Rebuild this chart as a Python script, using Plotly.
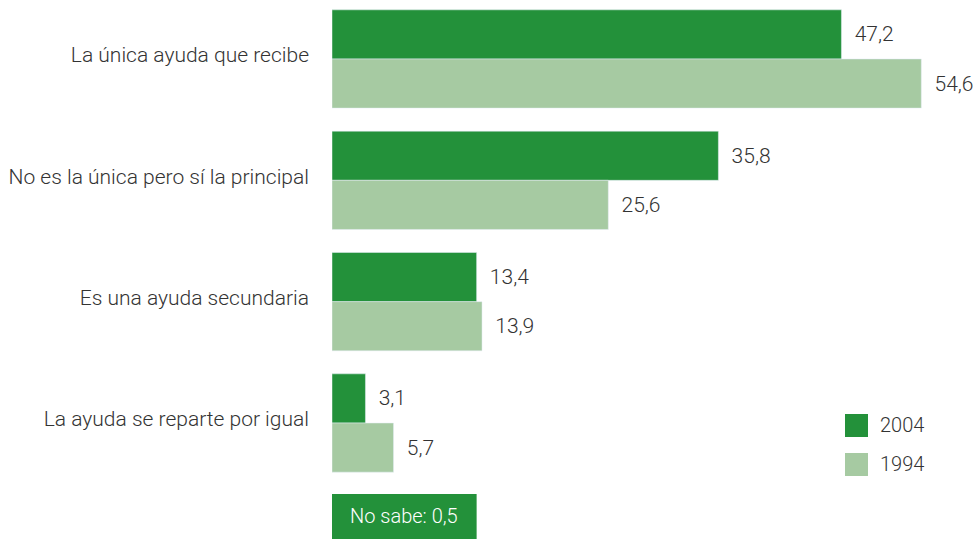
import plotly.graph_objects as go

categorias = ["La única ayuda que recibe", "No es la única pero sí la principal",
              "Es una ayuda secundaria", "La ayuda se reparte por igual"]
valores_2004 = [47.2, 35.8, 13.4, 3.1]
valores_1994 = [54.6, 25.6, 13.9, 5.7]
no_sabe = 0.5

verde = "#23913a"
verde_claro = "#a6caa2"
fuente = "Roboto"
texto = dict(family=fuente, size=21, color="#333333", weight=300)


def etiqueta(v):
    return "  " + f"{v:.1f}".replace(".", ",")


fig = go.Figure()
fig.add_trace(go.Bar(y=categorias, x=valores_2004, orientation="h", name="2004",
                     marker_color=verde, text=[etiqueta(v) for v in valores_2004],
                     textposition="outside", cliponaxis=False))
fig.add_trace(go.Bar(y=categorias, x=valores_1994, orientation="h", name="1994",
                     marker_color=verde_claro, text=[etiqueta(v) for v in valores_1994],
                     textposition="outside", cliponaxis=False))

# leyenda dibujada con cuadros grandes
for i, (nombre, color) in enumerate([("2004", verde), ("1994", verde_claro)]):
    y_sup = 0.2319 - i * 0.0723
    fig.add_shape(type="rect", xref="paper", yref="paper", x0=0.8195, x1=0.8562,
                  y0=y_sup - 0.0427, y1=y_sup, fillcolor=color, line_width=0)
    fig.add_annotation(xref="paper", yref="paper", x=0.8722, y=y_sup - 0.0213,
                       xanchor="left", yanchor="middle", text=nombre,
                       showarrow=False, font=dict(texto, size=20))

# caja "No sabe"
fig.add_shape(type="rect", xref="x", yref="paper", x0=0, x1=13.4, y0=0, y1=0.0835,
              fillcolor=verde, line_width=0)
fig.add_annotation(xref="x", yref="paper", x=13.4 / 2, y=0.0835 / 2,
                   xanchor="center", yanchor="middle",
                   text="No sabe: " + f"{no_sabe:.1f}".replace(".", ","),
                   showarrow=False, font=dict(texto, size=20, color="white"))

fig.update_layout(
    width=976, height=539,
    margin=dict(l=332, r=18, t=0, b=0),
    barmode="group", bargap=0.19, bargroupgap=0,
    plot_bgcolor="white", paper_bgcolor="white",
    font=texto, showlegend=False,
    uniformtext=dict(minsize=20, mode="show"),
)
fig.update_xaxes(range=[0, 58], visible=False)
fig.update_yaxes(type="category", range=[3.956, -0.486], showgrid=False, zeroline=False,
                 showline=False, ticks="", ticklabelstandoff=22, ticklabelshift=4,
                 tickfont=texto)

# sin margen del body para que la figura ocupe la ventana exacta
fig.write_html("out.html", config={"displayModeBar": False},
               post_script="document.body.style.margin='0';")
